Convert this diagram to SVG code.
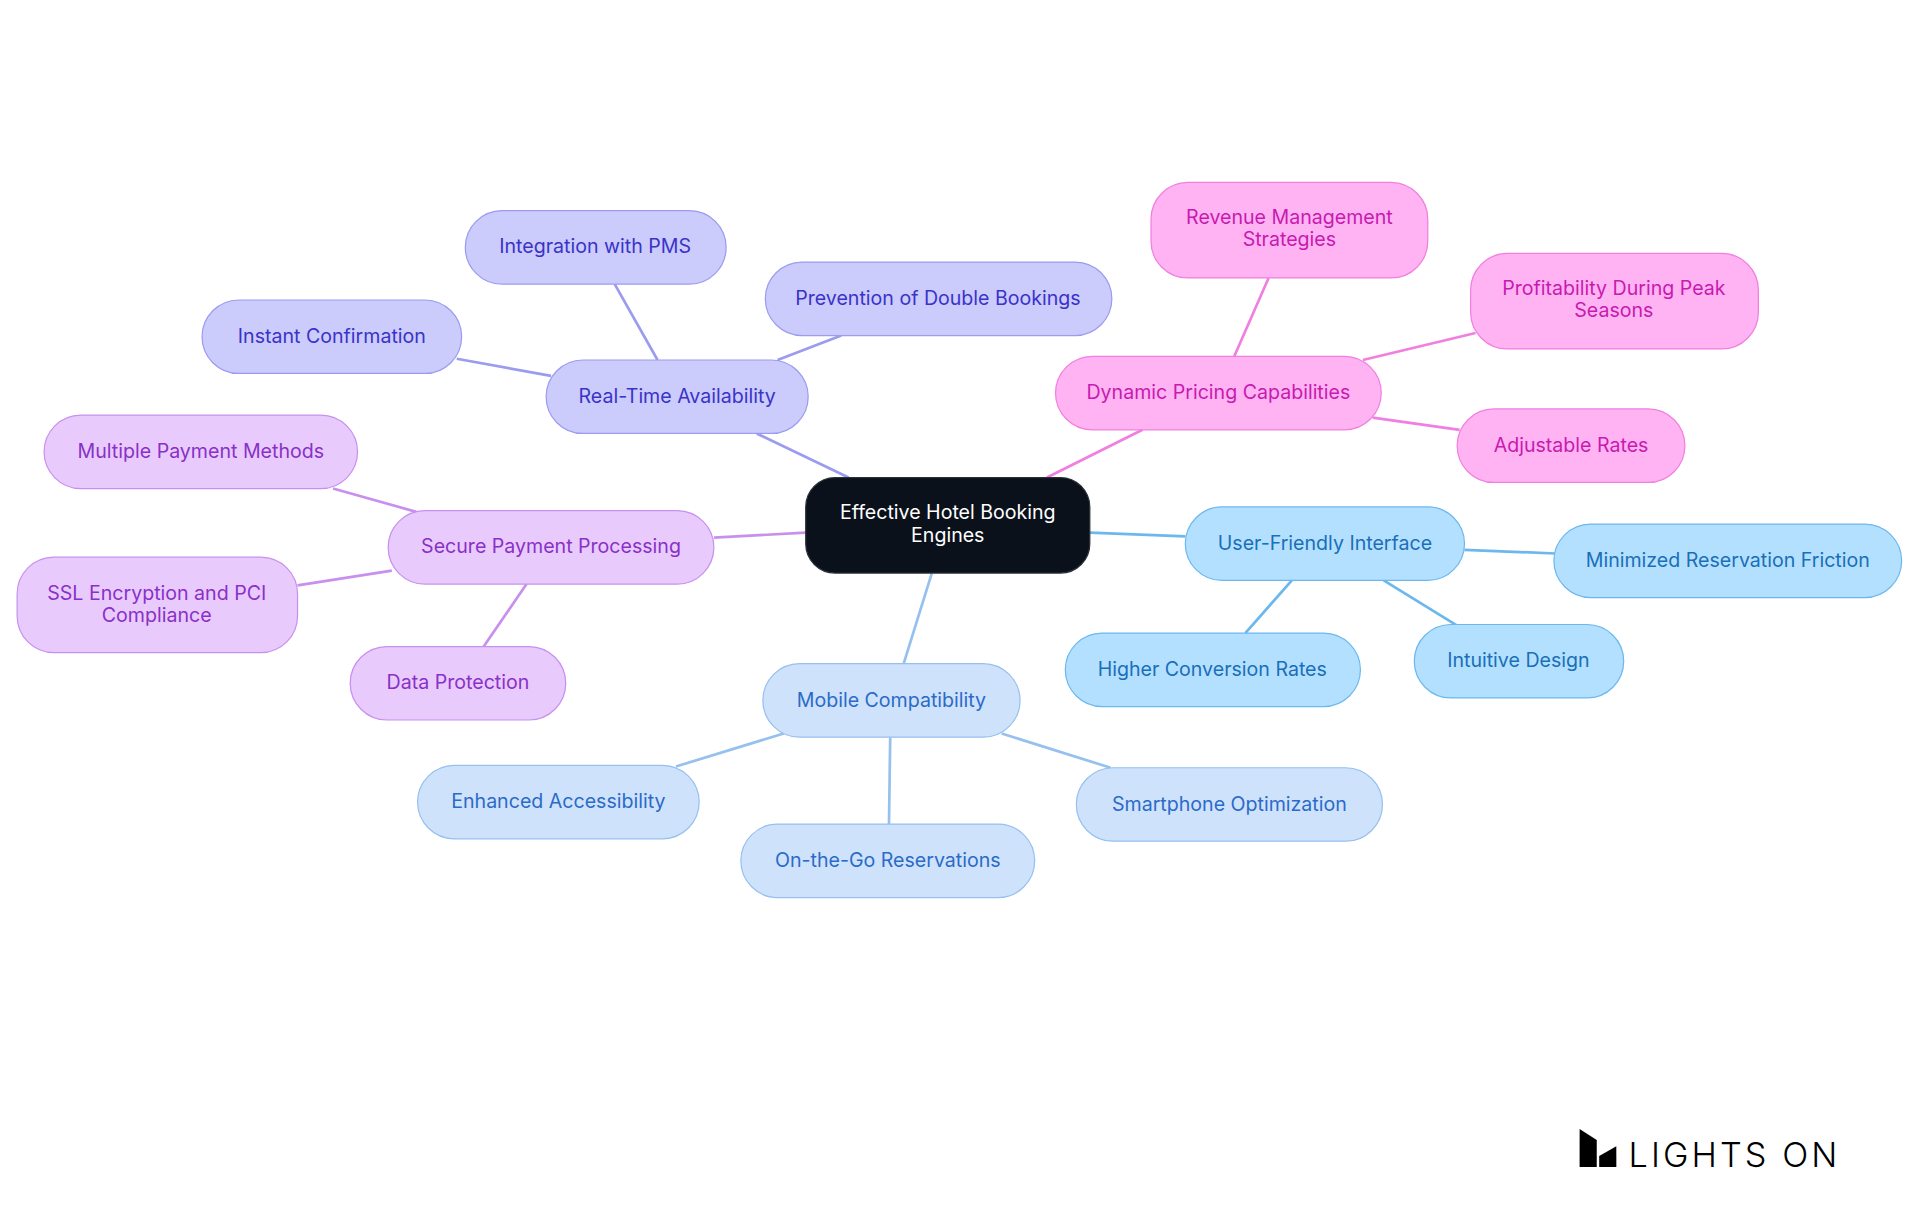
<svg xmlns="http://www.w3.org/2000/svg" width="1920" height="1215" viewBox="0 0 1920 1215">
<style>
text{font-family:Inter,"Liberation Sans",sans-serif;font-size:16px;text-anchor:middle}
.e{fill:none;stroke-width:2.2}
.r rect{fill:#cbcbfc;stroke:#9b9bf0}.r text{fill:#3a33c8}
.p rect{fill:#ffb3f3;stroke:#f07fe0}.p text{fill:#c81ab0}
.u rect{fill:#b3e0ff;stroke:#6cb8ee}.u text{fill:#1a6fb8}
.m rect{fill:#cfe2fc;stroke:#96c0ee}.m text{fill:#2a6bc8}
.s rect{fill:#e8cbfc;stroke:#c890ee}.s text{fill:#8a30c8}
</style>
<rect width="1920" height="1215" fill="#fff"/>
<g transform="scale(1.2245)">
<g id="connectors">
<g stroke="#9b9bf0"><path class="e" d="M693 390L618 354M537 294L502 232M635 294L687 274M450 307L373 293"/></g>
<g stroke="#f07fe0"><path class="e" d="M855 390L933 351M1008 291L1036 227M1113 294L1205 272M1121 341L1192 351"/></g>
<g stroke="#6cb8ee"><path class="e" d="M890 435L968 438M1196 449L1270 452M1130 474L1190 511M1055 474L1017 517"/></g>
<g stroke="#96c0ee"><path class="e" d="M761 468L738 542M640 599L552 626M727 602L726 673M818 599L907 627"/></g>
<g stroke="#c890ee"><path class="e" d="M658 435L583 439M340 418L272 399M320 466L243 478M430 477L395 528"/></g>
</g>
<g id="center"><rect x="658" y="390" width="232" height="78" rx="24" fill="#0b111b" stroke="#2a2f38"/><text x="774" y="424" fill="#fff">Effective Hotel Booking</text><text x="774" y="443" fill="#fff">Engines</text></g>
<g id="rt" class="r"><rect x="446" y="294" width="214" height="60" rx="30"/><text x="553" y="329">Real-Time Availability</text></g>
<g id="pms" class="r"><rect x="380" y="172" width="213" height="60" rx="30"/><text x="486" y="207">Integration with PMS</text></g>
<g id="pdb" class="r"><rect x="625" y="214" width="283" height="60" rx="30"/><text x="766" y="249">Prevention of Double Bookings</text></g>
<g id="ic" class="r"><rect x="165" y="245" width="212" height="60" rx="30"/><text x="271" y="280">Instant Confirmation</text></g>
<g id="dp" class="p"><rect x="862" y="291" width="266" height="60" rx="30"/><text x="995" y="326">Dynamic Pricing Capabilities</text></g>
<g id="rms" class="p"><rect x="940" y="149" width="226" height="78" rx="30"/><text x="1053" y="183">Revenue Management</text><text x="1053" y="201">Strategies</text></g>
<g id="pps" class="p"><rect x="1201" y="207" width="235" height="78" rx="30"/><text x="1318" y="241">Profitability During Peak</text><text x="1318" y="259">Seasons</text></g>
<g id="ar" class="p"><rect x="1190" y="334" width="186" height="60" rx="30"/><text x="1283" y="369">Adjustable Rates</text></g>
<g id="ufi" class="u"><rect x="968" y="414" width="228" height="60" rx="30"/><text x="1082" y="449">User-Friendly Interface</text></g>
<g id="mrf" class="u"><rect x="1269" y="428" width="284" height="60" rx="30"/><text x="1411" y="463">Minimized Reservation Friction</text></g>
<g id="id" class="u"><rect x="1155" y="510" width="171" height="60" rx="30"/><text x="1240" y="545">Intuitive Design</text></g>
<g id="hcr" class="u"><rect x="870" y="517" width="241" height="60" rx="30"/><text x="990" y="552">Higher Conversion Rates</text></g>
<g id="mc" class="m"><rect x="623" y="542" width="210" height="60" rx="30"/><text x="728" y="577">Mobile Compatibility</text></g>
<g id="ea" class="m"><rect x="341" y="625" width="230" height="60" rx="30"/><text x="456" y="660">Enhanced Accessibility</text></g>
<g id="otg" class="m"><rect x="605" y="673" width="240" height="60" rx="30"/><text x="725" y="708">On-the-Go Reservations</text></g>
<g id="so" class="m"><rect x="879" y="627" width="250" height="60" rx="30"/><text x="1004" y="662">Smartphone Optimization</text></g>
<g id="spp" class="s"><rect x="317" y="417" width="266" height="60" rx="30"/><text x="450" y="452">Secure Payment Processing</text></g>
<g id="mpm" class="s"><rect x="36" y="339" width="256" height="60" rx="30"/><text x="164" y="374">Multiple Payment Methods</text></g>
<g id="ssl" class="s"><rect x="14" y="455" width="229" height="78" rx="30"/><text x="128" y="490">SSL Encryption and PCI</text><text x="128" y="508">Compliance</text></g>
<g id="dpr" class="s"><rect x="286" y="528" width="176" height="60" rx="30"/><text x="374" y="563">Data Protection</text></g>
<g id="logo"><polygon points="1290,922 1304,931 1304,953 1290,953" fill="#000"/><polygon points="1306,944 1320,936 1320,953 1306,953" fill="#000"/><text x="1330" y="953" style="text-anchor:start;font-size:28px;font-weight:300;letter-spacing:2.5px" fill="#000">LIGHTS ON</text></g>
</g>
</svg>
